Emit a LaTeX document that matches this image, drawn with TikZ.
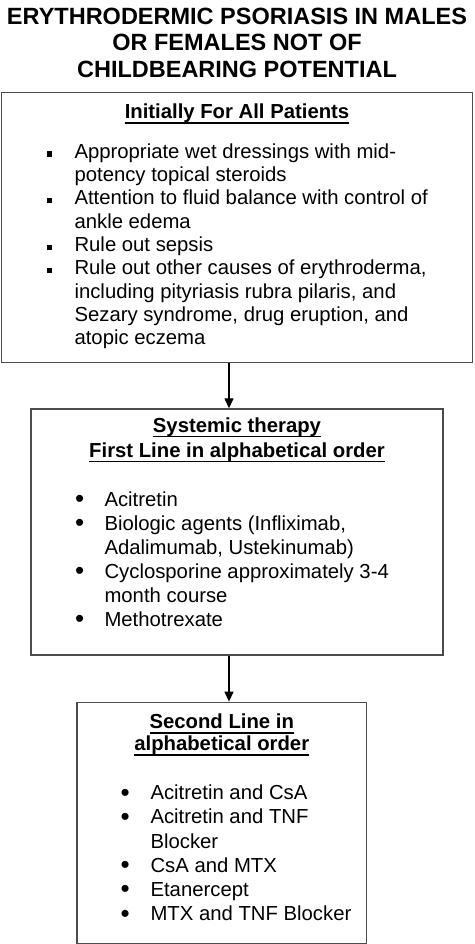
\documentclass[tikz,border=0pt]{standalone}
\usepackage{fontspec}
\setmainfont{Liberation Sans}
\usepackage{xcolor}
\usetikzlibrary{
arrows.meta,
positioning,
calc
}

\newcommand{\hdul}[1]{\setbox0=\hbox{#1}\rlap{\vrule height -3.5pt depth 5pt width \wd0}\box0}
\newcommand{\sqbul}{\raisebox{1.6pt}{\rule{5.2pt}{5.2pt}}}
\newcommand{\rdbul}{\raisebox{-1.5pt}{\fontsize{26}{26}\selectfont\textbullet}}

\begin{document}
\begin{tikzpicture}[
box/.style={
draw=black!70,
line width=1.3pt,
inner sep=0pt,
anchor=north
},
heading/.style={
inner sep=0pt,
anchor=base,
font=\fontsize{20.3}{25}\selectfont\bfseries
},
items/.style={
inner sep=0pt,
anchor=base west,
font=\fontsize{20.3}{24}\selectfont
},
arrow/.style={-{Triangle[width=9pt,length=10pt]},line width=1.3pt}
]

\useasboundingbox (0,0) rectangle (474pt,-944pt);

\node[inner sep=0pt,anchor=base,font=\fontsize{23.5}{26.5}\selectfont\bfseries] (title) at (237pt,-24.5pt)
{\begin{tabular}[t]{@{}c@{}}ERYTHRODERMIC PSORIASIS IN MALES\\OR FEMALES NOT OF\\CHILDBEARING POTENTIAL\end{tabular}};

\node[box,minimum width=471pt,minimum height=270pt] (first) at (237pt,-92pt) {};
\node[box,minimum width=412pt,minimum height=246pt,below=45pt of first] (second) {};
\node[box,minimum width=289.5pt,minimum height=241pt,below=46pt of second,xshift=-15.25pt] (third) {};

\node[heading,below=27pt of first.north,anchor=base] (initial) {\hdul{Initially For All Patients}};
\node[heading,below=24pt of second.north,anchor=base] (systemic)
{\begin{tabular}[t]{@{}c@{}}\hdul{Systemic therapy}\\\hdul{First Line in alphabetical order}\end{tabular}};
\node[heading,below=27pt of third.north,anchor=base,font=\fontsize{20.3}{22}\selectfont\bfseries] (secline)
{\begin{tabular}[t]{@{}c@{}}\hdul{Second Line in}\\\hdul{alphabetical order}\end{tabular}};

\node[items,font=\fontsize{20.3}{23.33}\selectfont] (care) at ($(first.north west)+(45.5pt,-66.3pt)$)
{\begin{tabular}[t]{@{}p{28pt}@{}l@{}}
\sqbul & Appropriate wet dressings with mid-\\
 & potency topical steroids\\
\sqbul & Attention to fluid balance with control of\\
 & ankle edema\\
\sqbul & Rule out sepsis\\
\sqbul & Rule out other causes of erythroderma,\\
 & including pityriasis rubra pilaris, and\\
 & Sezary syndrome, drug eruption, and\\
 & atopic eczema
\end{tabular}};

\node[items] (firstdrugs) at ($(second.north west)+(44.5pt,-98pt)$)
{\begin{tabular}[t]{@{}p{29.5pt}@{}l@{}}
\rdbul & Acitretin\\
\rdbul & Biologic agents (Infliximab,\\
 & Adalimumab, Ustekinumab)\\
\rdbul & Cyclosporine approximately 3-4\\
 & month course\\
\rdbul & Methotrexate
\end{tabular}};

\node[items,font=\fontsize{20.3}{24.2}\selectfont] (seconddrugs) at ($(third.north west)+(44pt,-98pt)$)
{\begin{tabular}[t]{@{}p{30pt}@{}l@{}}
\rdbul & Acitretin and CsA\\
\rdbul & Acitretin and TNF\\
 & Blocker\\
\rdbul & CsA and MTX\\
\rdbul & Etanercept\\
\rdbul & MTX and TNF Blocker
\end{tabular}};

\draw[arrow] ([xshift=-8pt]first.south) -- ([xshift=-8pt]first.south |- second.north);
\draw[arrow] ([xshift=-8pt]second.south) -- ([xshift=-8pt]second.south |- third.north);

\end{tikzpicture}
\end{document}
